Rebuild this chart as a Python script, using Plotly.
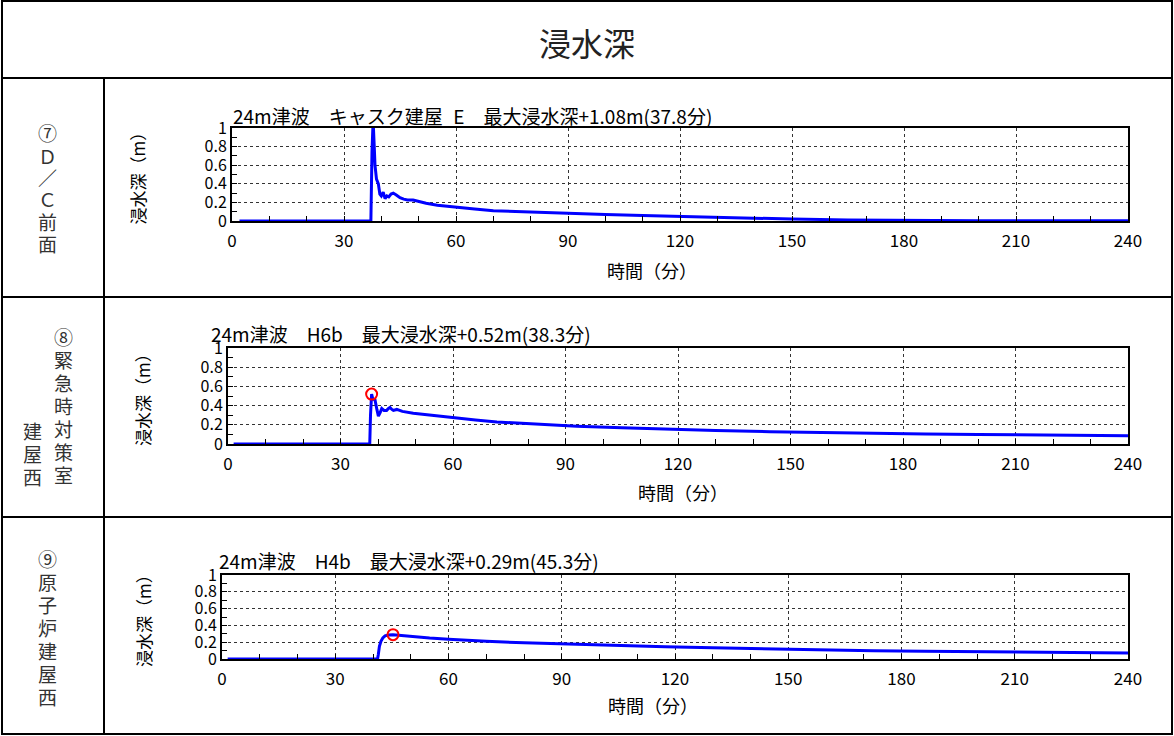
import plotly.graph_objects as go

W, H = 1174, 736
FONT = "Noto Sans CJK JP"

# ---------------- data ----------------
x_ticks = [0, 30, 60, 90, 120, 150, 180, 210, 240]
y_ticks = [0, 0.2, 0.4, 0.6, 0.8, 1.0]
y_tick_text = ["0", "0.2", "0.4", "0.6", "0.8", "1"]

t1 = [2, 37.2, 37.5, 37.8, 38.1, 38.3, 38.7, 39.2, 39.6, 40.0, 40.5, 41.0, 41.5, 42.0, 42.6,
      43.2, 44.0, 45.0, 46.0, 47.0, 48.5, 50, 52, 55, 60, 65, 70, 80, 90, 100, 110, 120, 135,
      150, 165, 180, 200, 220, 240]
d1 = [0, 0, 0.75, 1.08, 0.80, 0.60, 0.45, 0.40, 0.29, 0.27, 0.31, 0.24, 0.27, 0.26, 0.29,
      0.30, 0.28, 0.25, 0.235, 0.226, 0.225, 0.21, 0.19, 0.17, 0.147, 0.128, 0.11, 0.095, 0.082,
      0.07, 0.058, 0.047, 0.033, 0.021, 0.012, 0.007, 0.004, 0.003, 0.002]

t2 = [1.5, 37.8, 38.0, 38.3, 38.6, 39.2, 39.7, 40.1, 40.6, 41.0, 41.6, 42.3, 42.8, 43.2, 43.7,
      44.1, 45, 46.5, 49.4, 55, 61, 66, 71.7, 80, 93, 105, 117, 130, 144.5, 158, 172, 186, 200,
      213, 227, 240]
d2 = [0, 0, 0.30, 0.52, 0.47, 0.46, 0.36, 0.29, 0.33, 0.37, 0.35, 0.35, 0.37, 0.38, 0.36,
      0.35, 0.36, 0.34, 0.32, 0.295, 0.27, 0.25, 0.23, 0.21, 0.185, 0.168, 0.153, 0.14, 0.128,
      0.119, 0.111, 0.105, 0.10, 0.095, 0.09, 0.087]

t3 = [1.5, 41.2, 41.4, 41.7, 42.1, 42.6, 43.2, 44.0, 45.3, 46.5, 48, 50.7, 55, 60, 63.9, 70,
      80, 89.5, 100, 117.4, 130, 145, 160, 172.5, 186, 200, 213, 227, 240]
d3 = [0, 0, 0.05, 0.15, 0.21, 0.25, 0.275, 0.285, 0.29, 0.285, 0.275, 0.265, 0.25, 0.235,
      0.222, 0.21, 0.193, 0.179, 0.165, 0.147, 0.133, 0.119, 0.108, 0.099, 0.093, 0.087, 0.081,
      0.075, 0.07]

peak_t = [37.8, 38.3, 45.3]
peak_d = [1.08, 0.52, 0.29]

titles = ["24m津波　キャスク建屋_E　最大浸水深+1.08m(37.8分)",
          "24m津波　H6b　最大浸水深+0.52m(38.3分)",
          "24m津波　H4b　最大浸水深+0.29m(45.3分)"]
header = "浸水深"
x_title = "時間（分）"
y_title = "浸水深（m）"
row_labels = [
    [["⑦", "Ｄ", "／", "Ｃ", "前", "面"]],
    [["⑧", "緊", "急", "時", "対", "策", "室"], ["建", "屋", "西"]],
    [["⑨", "原", "子", "炉", "建", "屋", "西"]],
]

# ---------------- layout helpers ----------------
def px(x):
    return x / W

def py(y):
    return 1 - y / H

# plot boxes in pixels: left, right, top, bottom
boxes = [(232, 1128, 128, 221), (228, 1128, 348, 444), (222, 1128, 575, 659)]
title_pos = [(231, 115), (209, 333), (217, 560)]
xtitle_pos = [(652, 270), (683, 492), (653, 705)]
ytitle_x = [137, 143, 143]
label_cols = [[(47, 133, 22)], [(63, 337, 23.0), (32, 430, 23)], [(47, 558, 23)]]

series = [(t1, d1), (t2, d2), (t3, d3)]

fig = go.Figure()
annotations = []
shapes = []

for i, ((t, d), (l, r, top, bot)) in enumerate(zip(series, boxes)):
    n = "" if i == 0 else str(i + 1)
    fig.add_trace(go.Scatter(x=t, y=d, mode="lines", line=dict(color="#0000FF", width=3),
                             xaxis="x" + n, yaxis="y" + n, showlegend=False, hoverinfo="skip"))
    fig.add_trace(go.Scatter(x=[peak_t[i]], y=[peak_d[i]], mode="markers",
                             marker=dict(symbol="circle-open", color="#FF0000", size=11,
                                         line=dict(width=2, color="#FF0000")),
                             xaxis="x" + n, yaxis="y" + n, showlegend=False, cliponaxis=True,
                             hoverinfo="skip"))
    common = dict(showline=True, linecolor="black", linewidth=2, mirror=True,
                  showgrid=True, gridcolor="#333333", griddash="dot", gridwidth=1,
                  zeroline=False, ticks="inside", ticklen=5, tickcolor="black",
                  automargin=False, fixedrange=True)
    fig.update_layout(**{
        "xaxis" + n: dict(common, domain=[px(l), px(r)], range=[0, 240], anchor="y" + n,
                          tickvals=x_ticks, ticktext=[str(v) for v in x_ticks],
                          ticklabelstandoff=4,
                          tickfont=dict(family=FONT, size=17, color="black"),
                          minor=dict(ticks="inside", dtick=10, ticklen=5, tickcolor="black",
                                     showgrid=False)),
        "yaxis" + n: dict(common, domain=[py(bot), py(top)], range=[0, 1], anchor="x" + n,
                          tickvals=y_ticks, ticktext=y_tick_text,
                          tickfont=dict(family=FONT, size=16, color="black"),
                          minor=dict(ticks="inside", dtick=0.1, ticklen=5, tickcolor="black",
                                     showgrid=False)),
    })
    tx, ty = title_pos[i]
    annotations.append(dict(x=px(tx), y=py(ty), xref="paper", yref="paper", text=titles[i],
                            showarrow=False, xanchor="left", yanchor="middle",
                            font=dict(family=FONT, size=19, color="black")))
    xx, xy = xtitle_pos[i]
    annotations.append(dict(x=px(xx), y=py(xy), xref="paper", yref="paper", text=x_title,
                            showarrow=False, xanchor="center", yanchor="middle",
                            font=dict(family=FONT, size=18, color="black")))
    annotations.append(dict(x=px(ytitle_x[i]), y=py((top + bot) / 2), xref="paper", yref="paper",
                            text=y_title, textangle=-90, showarrow=False,
                            xanchor="center", yanchor="middle",
                            font=dict(family=FONT, size=17, color="black")))
    for chars, (cx, cy0, step) in zip(row_labels[i], label_cols[i]):
        for k, ch in enumerate(chars):
            annotations.append(dict(x=px(cx), y=py(cy0 + k * step), xref="paper", yref="paper",
                                    text=ch, showarrow=False, xanchor="center", yanchor="middle",
                                    font=dict(family=FONT, size=19, color="#333333")))

annotations.append(dict(x=px(587), y=py(42), xref="paper", yref="paper", text=header,
                        showarrow=False, xanchor="center", yanchor="middle",
                        font=dict(family=FONT, size=32, color="#222222")))

# table frame
line = dict(color="black", width=2)
shapes.append(dict(type="rect", xref="paper", yref="paper", x0=px(2), x1=px(1172),
                   y0=py(734), y1=py(1), line=line))
for yy in [78, 297, 517]:
    shapes.append(dict(type="line", xref="paper", yref="paper", x0=px(2), x1=px(1172),
                       y0=py(yy), y1=py(yy), line=line))
shapes.append(dict(type="line", xref="paper", yref="paper", x0=px(104), x1=px(104),
                   y0=py(78), y1=py(734), line=line))

fig.update_layout(width=W, height=H, margin=dict(l=0, r=0, t=0, b=0, autoexpand=False),
                  paper_bgcolor="white", plot_bgcolor="white",
                  annotations=annotations, shapes=shapes, hovermode=False,
                  font=dict(family=FONT, color="black"))

fig.write_html("out.html", config={"displayModeBar": False, "staticPlot": True},
               post_script="document.body.style.margin='0';document.body.style.overflow='hidden';")
